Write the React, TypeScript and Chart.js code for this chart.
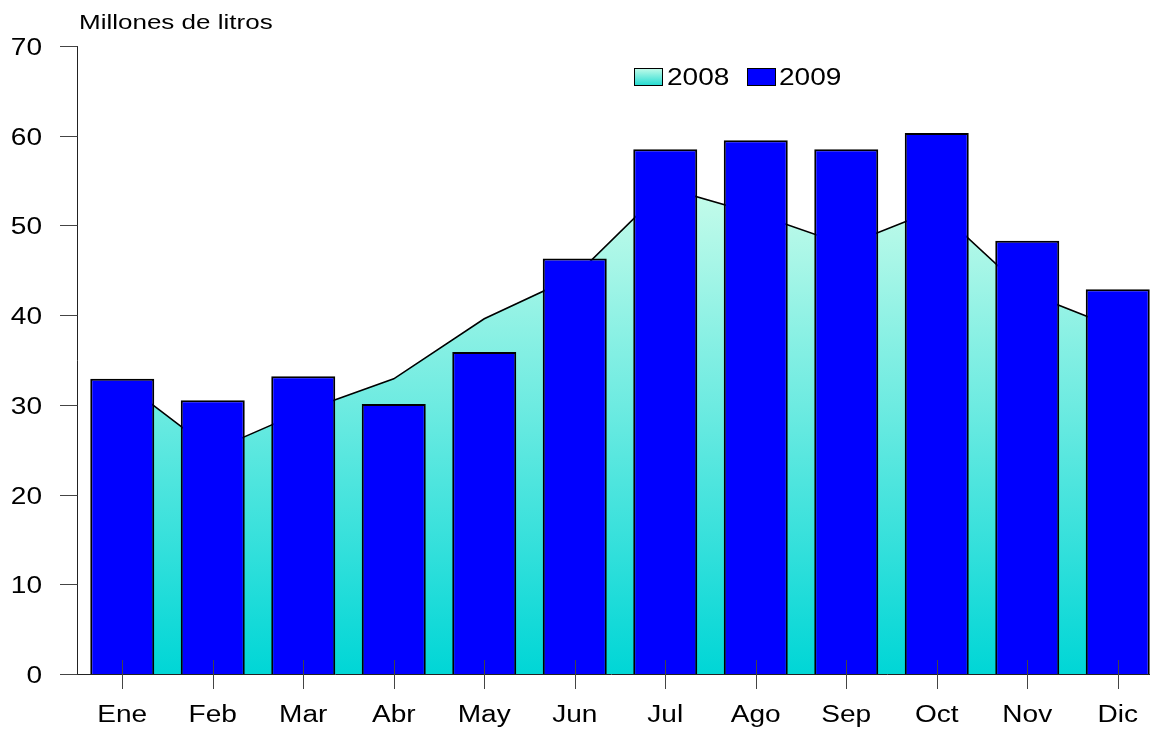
import React, { useEffect, useRef } from "react";
import { Chart, registerables } from "chart.js";

Chart.register(...registerables);

const months = ["Ene", "Feb", "Mar", "Abr", "May", "Jun", "Jul", "Ago", "Sep", "Oct", "Nov", "Dic"];
const values2008 = [32.6, 24.9, 29.3, 32.9, 39.6, 44.3, 54.2, 51.3, 47.8, 51.8, 42.5, 38.5];
const values2009 = [32.9, 30.5, 33.2, 30.1, 35.9, 46.3, 58.5, 59.5, 58.5, 60.3, 48.3, 42.9];
const yTicks = [0, 10, 20, 30, 40, 50, 60, 70];
const seriesLabels = ["2008", "2009"];
const yTitle = "Millones de litros";

const FONT = '"Liberation Sans", Arial, Helvetica, sans-serif';
const SX = 1.22;
const TOP_COLOR = "rgb(198,252,234)";
const BOTTOM_COLOR = "rgb(0,214,214)";

function stretchedText(ctx: CanvasRenderingContext2D, text: string, x: number, y: number, align: CanvasTextAlign, sx: number) {
  ctx.save();
  ctx.translate(x, y);
  ctx.scale(sx, 1);
  ctx.textAlign = align;
  ctx.textBaseline = "alphabetic";
  ctx.fillText(text, 0, 0);
  ctx.restore();
}

const decorPlugin = {
  id: "decor",
  afterDraw(chart: any) {
    const ctx: CanvasRenderingContext2D = chart.ctx;
    const xs = chart.scales.x;
    const ys = chart.scales.y;
    const area = chart.chartArea;
    ctx.save();
    // axes
    ctx.strokeStyle = "#222";
    ctx.lineWidth = 1;
    ctx.beginPath();
    ctx.moveTo(77.5, area.top);
    ctx.lineTo(77.5, area.bottom + 0.5);
    ctx.moveTo(60, area.bottom + 0.5);
    ctx.lineTo(chart.width, area.bottom + 0.5);
    ctx.stroke();
    // y ticks
    ctx.strokeStyle = "#444";
    ctx.beginPath();
    yTicks.forEach((v) => {
      const y = Math.round(ys.getPixelForValue(v)) + 0.5;
      ctx.moveTo(60, y);
      ctx.lineTo(77.5, y);
    });
    // x ticks
    months.forEach((_, i) => {
      const x = Math.round(xs.getPixelForValue(i)) + 0.5;
      ctx.moveTo(x, area.bottom - 14);
      ctx.lineTo(x, area.bottom + 15);
    });
    ctx.stroke();

    ctx.fillStyle = "#000";
    ctx.font = `23px ${FONT}`;
    yTicks.forEach((v) => {
      const y = ys.getPixelForValue(v);
      stretchedText(ctx, String(v), 42, y + 9, "right", SX);
    });
    months.forEach((m, i) => {
      const x = xs.getPixelForValue(i);
      stretchedText(ctx, m, x, 722, "center", SX);
    });
    // title
    ctx.font = `20px ${FONT}`;
    stretchedText(ctx, yTitle, 79, 29, "left", 1.3);

    // legend
    const swY = 68, swH = 17, swW = 28;
    const g = ctx.createLinearGradient(0, swY, 0, swY + swH);
    g.addColorStop(0, TOP_COLOR);
    g.addColorStop(1, "rgb(40,220,210)");
    ctx.fillStyle = g;
    ctx.fillRect(634, swY, swW, swH);
    ctx.strokeStyle = "#000";
    ctx.lineWidth = 1;
    ctx.strokeRect(634.5, swY + 0.5, swW, swH);
    ctx.fillStyle = "#0000ff";
    ctx.fillRect(747, swY, swW, swH);
    ctx.strokeRect(747.5, swY + 0.5, swW, swH);
    ctx.fillStyle = "#000";
    ctx.font = `23px ${FONT}`;
    stretchedText(ctx, seriesLabels[0], 667, 85, "left", SX);
    stretchedText(ctx, seriesLabels[1], 779, 85, "left", SX);
    ctx.restore();
  },
};

export default function App() {
  const ref = useRef<HTMLCanvasElement | null>(null);
  useEffect(() => {
    if (!ref.current) return;
    const chart = new Chart(ref.current, {
      type: "bar",
      data: {
        labels: months,
        datasets: [
          {
            type: "line",
            label: seriesLabels[0],
            data: values2008,
            fill: "origin",
            borderColor: "#000",
            borderWidth: 1.6,
            pointRadius: 0,
            tension: 0,
            order: 2,
            backgroundColor: (c: any) => {
              const ch = c.chart;
              const a = ch.chartArea;
              if (!a) return TOP_COLOR;
              const top = ch.scales.y.getPixelForValue(Math.max(...values2008));
              const g = ch.ctx.createLinearGradient(0, top, 0, a.bottom);
              g.addColorStop(0, TOP_COLOR);
              g.addColorStop(1, BOTTOM_COLOR);
              return g;
            },
          } as any,
          {
            type: "bar",
            label: seriesLabels[1],
            data: values2009,
            backgroundColor: "#0000ff",
            borderColor: "#000",
            borderWidth: 2,
            barPercentage: 64 / 90.5,
            categoryPercentage: 1,
            order: 1,
          },
        ],
      },
      options: {
        animation: false,
        responsive: false,
        events: [],
        layout: { padding: { top: 46, left: 0, right: 0, bottom: 0 } },
        plugins: { legend: { display: false }, tooltip: { enabled: false }, title: { display: false } },
        scales: {
          x: {
            offset: true,
            grid: { display: false, drawTicks: false },
            border: { display: false },
            ticks: { display: false },
            afterFit: (s: any) => {
              s.height = 58;
            },
          },
          y: {
            min: 0,
            max: 70,
            grid: { display: false, drawTicks: false },
            border: { display: false },
            ticks: { display: false, stepSize: 10 },
            afterFit: (s: any) => {
              s.width = 77;
            },
          },
        },
      },
      plugins: [decorPlugin],
    });
    return () => chart.destroy();
  }, []);
  return (
    <div style={{ position: "fixed", left: 0, top: 0, width: 1150, height: 732, overflow: "hidden", background: "#fff" }}>
      <canvas ref={ref} width={1163} height={732} style={{ display: "block" }} />
    </div>
  );
}
